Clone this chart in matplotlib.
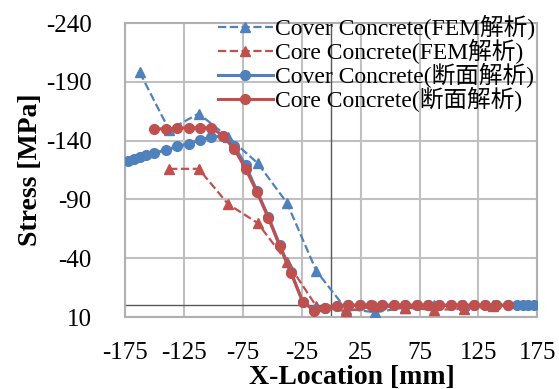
import matplotlib
matplotlib.use("Agg")
import matplotlib.pyplot as plt

plt.rcParams['font.family'] = ['Liberation Serif', 'Noto Sans CJK JP']

# FEM analysis (x in mm, stress in MPa)
fem_cover_x = [-162.5, -137.5, -112.5, -87.5, -62.5, -37.5, -12.5, 12.5, 37.5, 62.5, 87.5, 112.5, 137.5]
fem_cover_y = [-198, -149, -163, -143, -121, -87, -29, 3, 6, 2, 0, 0, 0]

fem_core_x = [-137.5, -112.5, -87.5, -62.5, -37.5, -12.5, 12.5, 37.5, 62.5, 87.5, 112.5, 137.5]
fem_core_y = [-116, -116, -86, -70, -37, 1, 5, 1, 2, 4, 3, 1]

# Section analysis
sec_core_x = [-150.0, -140.3, -130.6, -121.0, -111.3, -101.6, -91.9, -82.3, -72.6, -62.9,
              -53.2, -43.5, -33.9, -24.2, -14.5, -4.8, 4.8, 14.5, 24.2, 33.9,
              43.5, 53.2, 62.9, 72.6, 82.3, 91.9, 101.6, 111.3, 121.0, 130.6, 140.3, 150.0]
sec_core_y = [-150, -150, -150.5, -151, -151, -151, -144, -133, -116, -96,
              -74, -50, -27, -3, 4.5, 2.5, 0.5, 0, 0, 0,
              0, 0, 0, 0, 0, 0, 0, 0, 0, 0, 0, 0]

sec_cover_x = [-172.5, -167.5, -162.5, -157.5] + sec_core_x + [157.5, 162.5, 167.5, 172.5]
sec_cover_y = [-123, -124.5, -126, -127.5,
               -129.5, -132, -135, -137.5, -140.5, -143, -144, -135.5, -119, -97,
               -75, -51, -28, -3, 4, 2, 0.5, 0, 0, 0,
               0, 0, 0, 0, 0, 0, 0, 0, 0, 0, 0, 0,
               0, 0, 0, 0]

labels = ['Cover Concrete(FEM解析)', 'Core Concrete(FEM解析)',
          'Cover Concrete(断面解析)', 'Core Concrete(断面解析)']
x_ticks = [-175, -125, -75, -25, 25, 75, 125, 175]
y_ticks = [10, -40, -90, -140, -190, -240]

blue = '#4f81bd'
red = '#c0504d'

fig = plt.figure(figsize=(5.59, 3.89), dpi=100)
ax = fig.add_axes([125/559, 1-317/389, (537.3-125)/559, (317-23)/389])

ax.plot(fem_cover_x, fem_cover_y, '--^', color=blue, lw=1.6, ms=6.5, label=labels[0], zorder=3)
ax.plot(fem_core_x, fem_core_y, '--^', color=red, lw=1.6, ms=6.5, label=labels[1], zorder=3)
ax.plot(sec_cover_x, sec_cover_y, '-o', color=blue, lw=2.2, ms=7, label=labels[2], zorder=4)
ax.plot(sec_core_x, sec_core_y, '-o', color=red, lw=2.2, ms=7, label=labels[3], zorder=5)

ax.set_xlim(-175, 175)
ax.set_ylim(10, -240)
ax.set_xticks(x_ticks)
ax.set_yticks(y_ticks)
ax.set_xticklabels([str(v) for v in x_ticks])
ax.set_yticklabels([str(v) for v in y_ticks])
ax.grid(True, color='#c0c0c0', lw=1.5)
ax.set_axisbelow(True)
ax.axhline(0, color='#595959', lw=1, zorder=2)
ax.axvline(0, color='#595959', lw=1, zorder=2)
for s in ax.spines.values():
    s.set_color('#b0b0b0')
    s.set_linewidth(1.5)
ax.tick_params(axis='both', length=0, labelsize=18)
ax.tick_params(axis='y', pad=24)
ax.tick_params(axis='x', pad=18)

ax.set_ylabel('Stress [MPa]', fontsize=20, fontweight='bold')
ax.set_xlabel('X-Location [mm]', fontsize=20, fontweight='bold')
ax.yaxis.set_label_coords(-0.20, 0.5)
ax.xaxis.set_label_coords(0.55, -0.163)

leg = ax.legend(loc='upper right', bbox_to_anchor=(535/559, 1 - 15/389),
                bbox_transform=fig.transFigure, frameon=False, fontsize=17,
                handlelength=2.3, handletextpad=0.1, labelspacing=-0.05,
                borderaxespad=0, borderpad=0)

fig.savefig('out.png', dpi=100)
